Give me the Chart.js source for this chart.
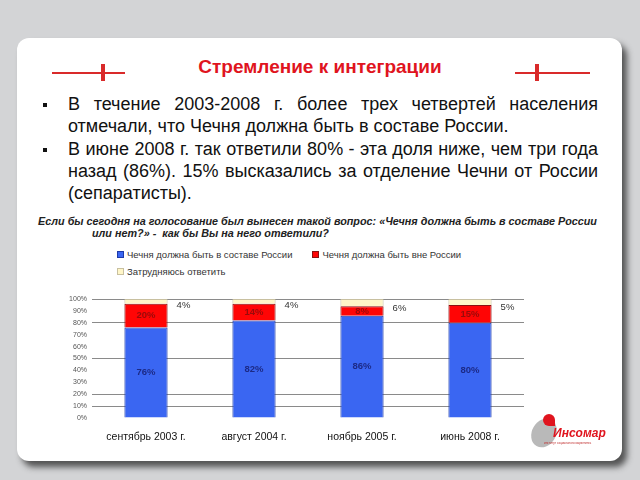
<!DOCTYPE html>
<html>
<head>
<meta charset="utf-8">
<script src="https://cdn.jsdelivr.net/npm/chart.js@4"></script>
<style>
  html, body { margin: 0; padding: 0; }
  body { width: 640px; height: 480px; background: #d3d4d6; position: relative; overflow: hidden; font-family: "Liberation Sans", Arial, sans-serif; }
  .card { position: absolute; left: 17px; top: 38px; width: 605px; height: 423px; background: #fff; border-radius: 12px; box-shadow: 5px 6px 6px rgba(40,40,40,0.75); }
  .title { position: absolute; left: 0; width: 640px; top: 56px; text-align: center; color: #e0141e; font-size: 19px; font-weight: bold; }
  .deco { position: absolute; height: 2px; background: #d92a2a; top: 72px; }
  .mark { position: absolute; width: 4px; height: 17px; background: #d92a2a; top: 64px; }
  .bullets { position: absolute; left: 68px; width: 530px; top: 93px; font-size: 18px; line-height: 22.3px; color: #111; text-align: justify; }
  .bullets p { margin: 0; position: relative; }
  .bullets p::before { content: ""; position: absolute; left: -25px; top: 10px; width: 4px; height: 4px; background: #111; }
  .question { position: absolute; left: 38px; width: 565px; top: 215px; font-size: 10.8px; line-height: 12px; font-weight: bold; font-style: italic; color: #222; padding-left: 54px; text-indent: -54px; white-space: nowrap; }
  #legend { position: absolute; left: 117px; top: 248px; font-size: 9.5px; color: #333; width: 420px; }
  #legend span.item { display: inline-block; margin-right: 20px; height: 17px; line-height: 14px; }
  #legend i { display: inline-block; width: 5px; height: 5px; margin-right: 3px; border: 1px solid #666; vertical-align: 0px; }
  #wrap { position: absolute; left: 40px; top: 285px; width: 500px; height: 160px; }
  .logo { position: absolute; left: 528px; top: 410px; width: 80px; height: 40px; }
  .logo .disk { position: absolute; left: 4px; top: 8px; width: 24px; height: 30px; border-radius: 50%; background: #b9b9b9; transform: rotate(30deg); }
  .logo .cap { position: absolute; left: 15px; top: 4px; width: 12px; height: 12px; border-radius: 12px 12px 0 12px; background: #e0141e; }
  .logo .name { position: absolute; left: 25px; top: 16px; color: #e0141e; font-weight: bold; font-style: italic; font-size: 12px; }
  .logo .sub { position: absolute; left: 16px; top: 31px; color: #c03030; font-size: 3px; white-space: nowrap; }
</style>
</head>
<body>
<div class="card"></div>
<div class="deco" style="left:52px;width:73px"></div>
<div class="mark" style="left:101px"></div>
<div class="deco" style="left:515px;width:75px"></div>
<div class="mark" style="left:535px"></div>
<div class="title">Стремление к интеграции</div>
<div class="bullets">
  <p>В течение 2003-2008 г. более трех четвертей населения отмечали, что Чечня должна быть в составе России.</p>
  <p>В июне 2008 г. так ответили 80% - эта доля ниже, чем три года назад (86%). 15% высказались за отделение Чечни от России (сепаратисты).</p>
</div>
<div class="question">Если бы сегодня на голосование был вынесен такой вопрос: «Чечня должна быть в составе России<br>или нет?» -&nbsp; как бы Вы на него ответили?</div>
<div id="legend"></div>
<div id="wrap"><canvas id="c"></canvas></div>
<div class="logo"><div class="disk"></div><div class="cap"></div><div class="name">Инсомар</div><div class="sub">институт социального маркетинга</div></div>
<script>
const categories = ["сентябрь 2003 г.", "август 2004 г.", "ноябрь 2005 г.", "июнь 2008 г."];
const seriesNames = ["Чечня должна быть в составе России", "Чечня должна быть вне России", "Затрудняюсь ответить"];
const inRussia = [76, 82, 86, 80];
const outsideRussia = [20, 14, 8, 15];
const undecided = [4, 4, 6, 5];
const gridShown = [100, 80, 50, 20, 10];

// подписи значений
const valueLabels = {
  id: 'valueLabels',
  afterDatasetsDraw(chart) {
    const ctx = chart.ctx;
    ctx.save();
    ctx.textBaseline = 'middle';
    chart.data.datasets.forEach((ds, i) => {
      const meta = chart.getDatasetMeta(i);
      meta.data.forEach((bar, j) => {
        const txt = ds.data[j] + '%';
        if (i < 2) {
          ctx.font = 'bold 9.5px "Liberation Sans", Arial, sans-serif';
          ctx.fillStyle = i === 0 ? '#1c2a86' : '#9a0a0a';
          ctx.textAlign = 'center';
          ctx.fillText(txt, bar.x, (bar.y + bar.base) / 2);
        } else {
          ctx.font = '9.5px "Liberation Sans", Arial, sans-serif';
          ctx.fillStyle = '#333';
          ctx.textAlign = 'left';
          ctx.fillText(txt, bar.x + bar.width / 2 + 9, bar.base + 2);
        }
      });
    });
    ctx.restore();
  }
};

const chart = new Chart(document.getElementById('c'), {
  type: 'bar',
  data: {
    labels: categories,
    datasets: [
      { label: seriesNames[0], data: inRussia, backgroundColor: '#3a66f2', borderColor: '#1e3aa8', borderWidth: 1 },
      { label: seriesNames[1], data: outsideRussia, backgroundColor: '#ff0505', borderColor: '#8a1010', borderWidth: 1 },
      { label: seriesNames[2], data: undecided, backgroundColor: '#fff6c8', borderColor: '#c8c0a0', borderWidth: 1 }
    ]
  },
  options: {
    responsive: true,
    maintainAspectRatio: false,
    animation: false,
    layout: { padding: { top: 14, right: 16 } },
    datasets: { bar: { categoryPercentage: 1, barPercentage: 0.4 } },
    plugins: { legend: { display: false }, tooltip: { enabled: false } },
    scales: {
      x: {
        stacked: true,
        grid: { display: false },
        border: { display: false },
        ticks: { color: '#111', font: { size: 10.5, family: '"Liberation Sans", Arial, sans-serif' }, padding: 5 },
        afterFit(s) { s.height = 27; }
      },
      y: {
        stacked: true,
        min: 0, max: 100,
        border: { display: false },
        grid: {
          drawTicks: false,
          color: c => gridShown.includes(c.tick.value) ? '#8a8a8a' : 'rgba(0,0,0,0)'
        },
        ticks: { stepSize: 10, padding: 5, color: '#555', font: { size: 7, family: '"Liberation Sans", Arial, sans-serif' }, callback: v => v + '%' },
        afterFit(s) { s.width = 52; }
      }
    }
  },
  plugins: [valueLabels]
});

// легенда
const legend = document.getElementById('legend');
chart.data.datasets.forEach((ds, i) => {
  const item = document.createElement('span');
  item.className = 'item';
  item.innerHTML = '<i style="background:' + ds.backgroundColor + ';border-color:' + ds.borderColor + '"></i>' + ds.label;
  legend.appendChild(item);
  if (i === 1) legend.appendChild(document.createElement('br'));
});
</script>
</body>
</html>
